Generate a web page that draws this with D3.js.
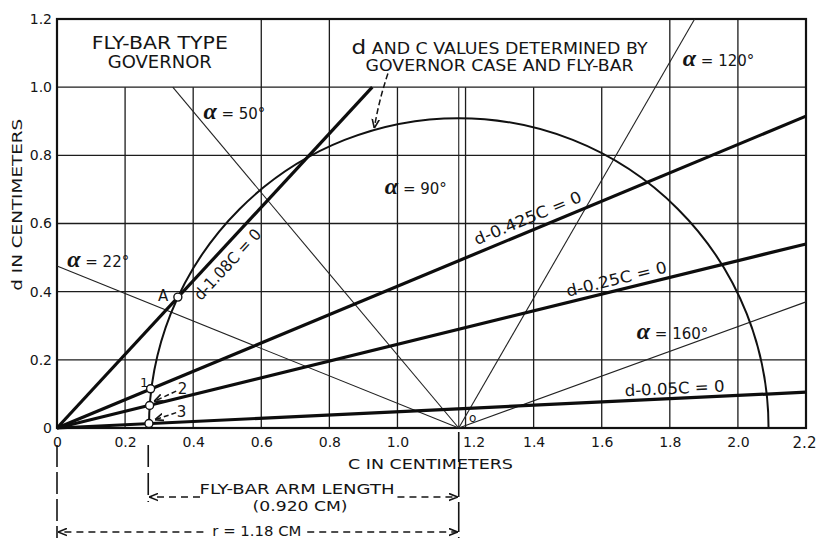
<!DOCTYPE html>
<html>
<head>
<meta charset="utf-8">
<script src="https://cdn.jsdelivr.net/npm/d3@7"></script>
<style>
  body { margin: 0; background: #fff; }
  text { font-family: "DejaVu Sans", sans-serif; fill: #151515; }
</style>
</head>
<body>
<div id="chart"></div>
<script>
// Tick values on both axes (centimeters)
const xTicks = [0, 0.2, 0.4, 0.6, 0.8, 1.0, 1.2, 1.4, 1.6, 1.8, 2.0, 2.2];
const yTicks = [0, 0.2, 0.4, 0.6, 0.8, 1.0, 1.2];

// Header cells in the top row where the grid is left out
const headerSpans = [[0, 0.6], [0.8, 1.8]];

// Rays from the origin, d - k c = 0 (end point)
const rayNames = ["d-1.08C = 0", "d-0.425C = 0", "d-0.25C = 0", "d-0.05C = 0"];
const rayEnds = [[0.926, 1.0], [2.2, 0.915], [2.2, 0.54], [2.2, 0.105]];

// Thin lines through point O at angle alpha
const pivotO = [1.18, 0];
const alphaNames = ["α = 22°", "α = 50°", "α = 90°", "α = 120°", "α = 160°"];
const alphaEnds = [[0, 0.475], [0.34, 1.0], [1.18, 1.0], [1.873, 1.2], [2.2, 0.37]];

// Locus of d and c: circle round O
const arcCenter = 1.18;
const arcRadius = 0.91;

// Marked points on the locus
const pointNames = ["A", "1", "2", "3"];
const pointValues = [[0.355, 0.384], [0.275, 0.115], [0.272, 0.066], [0.27, 0.013]];

// Dimension values below the chart
const armStart = 0.268;
const radiusEnd = 1.18;

const svgWidth = 820;
const svgHeight = 538;
const margin = { top: 19, right: 14, bottom: 110, left: 57 };
const chartWidth = svgWidth - margin.left - margin.right;
const chartHeight = svgHeight - margin.top - margin.bottom;

const svg = d3.select("#chart")
  .append("svg")
  .attr("width", svgWidth)
  .attr("height", svgHeight);

// arrow heads
const defs = svg.append("defs");
defs.append("marker")
  .attr("id", "arrow")
  .attr("viewBox", "0 0 10 10")
  .attr("refX", 10).attr("refY", 5)
  .attr("markerWidth", 9).attr("markerHeight", 9)
  .attr("markerUnits", "userSpaceOnUse")
  .attr("orient", "auto-start-reverse")
  .append("path")
  .attr("d", "M0,1 L10,5 L0,9")
  .attr("fill", "none")
  .attr("stroke", "#151515")
  .attr("stroke-width", 1.8);

const chartGroup = svg.append("g")
  .attr("transform", `translate(${margin.left}, ${margin.top})`);

const x = d3.scaleLinear().domain([0, 2.2]).range([0, chartWidth]);
const y = d3.scaleLinear().domain([0, 1.2]).range([chartHeight, 0]);

// grid
const inHeader = v => headerSpans.some(s => v > s[0] + 1e-6 && v < s[1] - 1e-6);

chartGroup.append("g")
  .selectAll("line")
  .data(xTicks.slice(1, -1))
  .enter()
  .append("line")
  .attr("x1", d => x(d)).attr("x2", d => x(d))
  .attr("y1", y(0))
  .attr("y2", d => inHeader(d) ? y(1.0) : y(1.2))
  .attr("stroke", "#1c1c1c")
  .attr("stroke-width", 1.3);

chartGroup.append("g")
  .selectAll("line")
  .data(yTicks.slice(1, -1))
  .enter()
  .append("line")
  .attr("x1", 0).attr("x2", chartWidth)
  .attr("y1", d => y(d)).attr("y2", d => y(d))
  .attr("stroke", "#1c1c1c")
  .attr("stroke-width", 1.3);

// frame
chartGroup.append("rect")
  .attr("width", chartWidth)
  .attr("height", chartHeight)
  .attr("fill", "none")
  .attr("stroke", "#111")
  .attr("stroke-width", 2.2);

// axes
const fmt = d => d === 0 ? "0" : d3.format(".1f")(d);

const bottomAxis = chartGroup.append("g")
  .attr("transform", `translate(0, ${chartHeight})`)
  .call(d3.axisBottom(x).tickValues(xTicks).tickFormat(fmt).tickSize(0).tickPadding(9));
bottomAxis.select(".domain").remove();
bottomAxis.selectAll("text")
  .style("font-size", d => d === 2.2 ? "15px" : "14px")
  .attr("dx", d => d === 1.2 ? 8 : d === 2.2 ? -2 : 0);

const leftAxis = chartGroup.append("g")
  .call(d3.axisLeft(y).tickValues(yTicks).tickFormat(fmt).tickSize(0).tickPadding(5));
leftAxis.select(".domain").remove();
leftAxis.selectAll("text").style("font-size", "14px");

// thin alpha lines through O
chartGroup.append("g")
  .selectAll("line")
  .data(alphaEnds)
  .enter()
  .append("line")
  .attr("x1", x(pivotO[0])).attr("y1", y(pivotO[1]))
  .attr("x2", d => x(d[0])).attr("y2", d => y(d[1]))
  .attr("stroke", "#222")
  .attr("stroke-width", 1.1);

// locus arc
const rPx = x(arcCenter + arcRadius) - x(arcCenter);
const arcPath = d3.path();
arcPath.arc(x(arcCenter), y(0), rPx, Math.PI, 2 * Math.PI);
chartGroup.append("path")
  .attr("d", arcPath.toString())
  .attr("fill", "none")
  .attr("stroke", "#111")
  .attr("stroke-width", 2);

// heavy rays from origin
chartGroup.append("g")
  .selectAll("line")
  .data(rayEnds)
  .enter()
  .append("line")
  .attr("x1", x(0)).attr("y1", y(0))
  .attr("x2", d => x(d[0])).attr("y2", d => y(d[1]))
  .attr("stroke", "#0d0d0d")
  .attr("stroke-width", 3.2);

// marked points
chartGroup.append("g")
  .selectAll("circle")
  .data(pointValues)
  .enter()
  .append("circle")
  .attr("cx", d => x(d[0]))
  .attr("cy", d => y(d[1]))
  .attr("r", 4)
  .attr("fill", "#fff")
  .attr("stroke", "#111")
  .attr("stroke-width", 1.4);

// ray labels along their lines
const rayLabelPos = [[0.423, 0.372, 90], [1.233, 0.536, 115], [1.50, 0.385, 103], [1.668, 0.093, 100]];
chartGroup.append("g")
  .selectAll("text")
  .data(rayNames)
  .enter()
  .append("text")
  .attr("transform", (d, i) => {
    const e = rayEnds[i];
    const ang = Math.atan2(y(e[1]) - y(0), x(e[0]) - x(0)) * 180 / Math.PI;
    return `translate(${x(rayLabelPos[i][0])}, ${y(rayLabelPos[i][1])}) rotate(${ang})`;
  })
  .attr("textLength", (d, i) => rayLabelPos[i][2])
  .attr("lengthAdjust", "spacingAndGlyphs")
  .style("font-size", "16px")
  .text(d => d);

// alpha labels
const alphaLabelPos = [[0.03, 0.472], [0.43, 0.907], [0.963, 0.687], [1.838, 1.062], [1.703, 0.261]];
const alphaText = chartGroup.append("g")
  .selectAll("text")
  .data(alphaNames)
  .enter()
  .append("text")
  .attr("x", (d, i) => x(alphaLabelPos[i][0]))
  .attr("y", (d, i) => y(alphaLabelPos[i][1]))
  .style("font-size", "15px");
alphaText.append("tspan")
  .style("font-family", "'Liberation Serif', serif")
  .style("font-style", "italic")
  .style("font-weight", "bold")
  .style("font-size", "24px")
  .text(d => d.slice(0, 1));
alphaText.append("tspan")
  .text(d => d.slice(1));

// point labels
const pointLabelPos = [[0.297, 0.373, 15], [0.244, 0.12, 13], [0.355, 0.1, 15], [0.352, 0.032, 15]];
chartGroup.append("g")
  .selectAll("text")
  .data(pointNames)
  .enter()
  .append("text")
  .attr("x", (d, i) => x(pointLabelPos[i][0]))
  .attr("y", (d, i) => y(pointLabelPos[i][1]))
  .style("font-size", (d, i) => pointLabelPos[i][2] + "px")
  .text(d => d);

chartGroup.append("text")
  .attr("x", x(1.21)).attr("y", y(0.018))
  .style("font-size", "12px")
  .text("o");

// little leader arrows for points 2 and 3
const leader = (x1, y1, x2, y2) => chartGroup.append("line")
  .attr("x1", x(x1)).attr("y1", y(y1))
  .attr("x2", x(x2)).attr("y2", y(y2))
  .attr("stroke", "#151515")
  .attr("stroke-width", 1.5)
  .attr("stroke-dasharray", "5,3")
  .attr("marker-end", "url(#arrow)");
leader(0.35, 0.108, 0.285, 0.078);
leader(0.35, 0.045, 0.287, 0.024);

// header texts
chartGroup.append("text")
  .attr("x", x(0.302)).attr("y", y(1.112))
  .attr("text-anchor", "middle")
  .attr("textLength", 136).attr("lengthAdjust", "spacingAndGlyphs")
  .style("font-size", "17px")
  .text("FLY-BAR TYPE");
chartGroup.append("text")
  .attr("x", x(0.302)).attr("y", y(1.056))
  .attr("text-anchor", "middle")
  .attr("textLength", 104).attr("lengthAdjust", "spacingAndGlyphs")
  .style("font-size", "17px")
  .text("GOVERNOR");

const note = chartGroup.append("text")
  .attr("x", x(1.30)).attr("y", y(1.097))
  .attr("text-anchor", "middle")
  .attr("textLength", 296).attr("lengthAdjust", "spacingAndGlyphs")
  .style("font-size", "15px");
note.append("tspan").style("font-size", "20px").text("d");
note.append("tspan").text(" AND C VALUES DETERMINED BY");
chartGroup.append("text")
  .attr("x", x(1.30)).attr("y", y(1.047))
  .attr("text-anchor", "middle")
  .attr("textLength", 268).attr("lengthAdjust", "spacingAndGlyphs")
  .style("font-size", "15px")
  .text("GOVERNOR CASE AND FLY-BAR");

// curved leader from the note to the locus
chartGroup.append("path")
  .attr("d", `M${x(0.972)},${y(1.04)} Q${x(0.945)},${y(0.96)} ${x(0.932)},${y(0.88)}`)
  .attr("fill", "none")
  .attr("stroke", "#151515")
  .attr("stroke-width", 1.5)
  .attr("stroke-dasharray", "6,3")
  .attr("marker-end", "url(#arrow)");

// axis titles
chartGroup.append("text")
  .attr("x", x(1.097)).attr("y", chartHeight + 41)
  .attr("text-anchor", "middle")
  .attr("textLength", 165).attr("lengthAdjust", "spacingAndGlyphs")
  .style("font-size", "14px")
  .text("C IN CENTIMETERS");

chartGroup.append("text")
  .attr("transform", `translate(${-35}, ${y(0.655)}) rotate(-90)`)
  .attr("text-anchor", "middle")
  .attr("textLength", 172).attr("lengthAdjust", "spacingAndGlyphs")
  .style("font-size", "14px")
  .text("d IN CENTIMETERS");

// dimension lines below the chart
const dimGroup = chartGroup.append("g")
  .attr("stroke", "#151515")
  .attr("stroke-width", 1.6)
  .attr("fill", "none");

dimGroup.append("line")
  .attr("x1", x(0)).attr("x2", x(0))
  .attr("y1", chartHeight + 17).attr("y2", svgHeight)
  .attr("stroke-dasharray", "22,5");
dimGroup.append("line")
  .attr("x1", x(armStart)).attr("x2", x(armStart))
  .attr("y1", chartHeight + 17).attr("y2", chartHeight + 74)
  .attr("stroke-dasharray", "22,6");
dimGroup.append("line")
  .attr("x1", x(radiusEnd)).attr("x2", x(radiusEnd))
  .attr("y1", chartHeight + 4).attr("y2", svgHeight)
  .attr("stroke-dasharray", "30,5");

const armY = chartHeight + 69;
const rY = chartHeight + 104;
const dash = (x1, x2, yy) => dimGroup.append("line")
  .attr("x1", x1).attr("x2", x2)
  .attr("y1", yy).attr("y2", yy)
  .attr("stroke-dasharray", "7,5")
  .attr("marker-end", "url(#arrow)");
dash(x(0.42), x(armStart) + 1, armY);
dash(x(1.00), x(radiusEnd) - 1, armY);
dash(x(0.43), x(0) + 1, rY);
dash(x(0.735), x(radiusEnd) - 1, rY);

chartGroup.append("text")
  .attr("x", x(0.705)).attr("y", chartHeight + 66)
  .attr("text-anchor", "middle")
  .attr("textLength", 195).attr("lengthAdjust", "spacingAndGlyphs")
  .style("font-size", "14px")
  .text("FLY-BAR ARM LENGTH");
chartGroup.append("text")
  .attr("x", x(0.714)).attr("y", chartHeight + 83)
  .attr("text-anchor", "middle")
  .attr("textLength", 95).attr("lengthAdjust", "spacingAndGlyphs")
  .style("font-size", "14px")
  .text("(0.920 CM)");
chartGroup.append("text")
  .attr("x", x(0.587)).attr("y", chartHeight + 108)
  .attr("text-anchor", "middle")
  .attr("textLength", 89).attr("lengthAdjust", "spacingAndGlyphs")
  .style("font-size", "14px")
  .text("r = 1.18 CM")
</script>
</body>
</html>
